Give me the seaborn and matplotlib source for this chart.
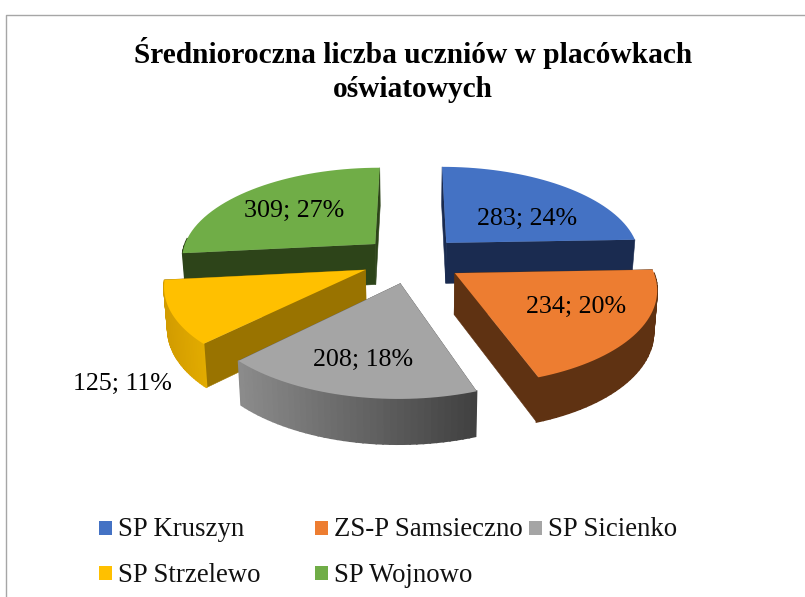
import numpy as np
import seaborn as sns
import matplotlib.pyplot as plt
from matplotlib.colors import to_rgb
from matplotlib.patches import Rectangle

names = ["SP Kruszyn", "ZS-P Samsieczno", "SP Sicienko", "SP Strzelewo", "SP Wojnowo"]
values = [283, 234, 208, 125, 309]
percents = [24, 20, 18, 11, 27]

top_colors = ["#4472C4", "#ED7D31", "#A5A5A5", "#FFC000", "#70AD47"]
side_colors = ["#1A2B50", "#5F3212", "#666666", "#997300", "#2D4419"]
# outer rim goes from the first colour to the second, left to right on screen
rim_colors = [("#1A2B50", "#1A2B50"), ("#5F3212", "#5F3212"), ("#8C8C8C", "#414141"),
              ("#D29C00", "#E2AB00"), ("#2D4419", "#2D4419")]

# pie projection, worked out from the picture
cx, cy = 412, 259.5
rx, ry = 195, 91.3
persp = 0.143
explode = 0.26
depth = 41

label_pos = [(527, 219), (576, 307), (363, 360), (122, 384), (294, 211)]
legend_x = [99, 315, 529, 99, 315]
legend_y = [528, 528, 528, 573, 573]


def project(px, py):
    w = 1 / (1 + persp * py)
    return cx + rx * px * w, cy - ry * py * w, w


def lower(x, y, w):
    return cx + (x - cx) * 0.985, y + depth * np.sqrt(w)


def band(ax, x1, y1, x2, y2, color, lw=0.4):
    ax.fill([x1[0], x2[0], x2[1], x1[1]], [y1[0], y2[0], y2[1], y1[1]],
            color=color, lw=lw)


sns.set_theme(style="white")
plt.rcParams["font.family"] = ["Liberation Serif", "DejaVu Serif"]
palette = sns.color_palette(top_colors)

fig = plt.figure(figsize=(8.05, 5.97), dpi=100)
ax = fig.add_axes([0, 0, 1, 1])
ax.set_xlim(0, 805)
ax.set_ylim(597, 0)
ax.axis("off")

# chart frame runs off the right and bottom of the crop
ax.plot([5.7, 5.7, 805], [597, 15, 15], color="#A6A6A6", lw=1)

edges = np.cumsum([0] + values) / sum(values) * 2 * np.pi

# painted back to front
for i in [4, 0, 3, 1, 2]:
    a0, a1 = edges[i], edges[i + 1]
    mid = (a0 + a1) / 2
    ox, oy = explode * np.sin(mid), explode * np.cos(mid)
    t = np.linspace(a0, a1, 40)
    X, Y, W = project(ox + np.sin(t), oy + np.cos(t))
    ax_, ay_, aw_ = project(ox, oy)
    bX, bY = lower(X, Y, W)
    bax, bay = lower(ax_, ay_, aw_)

    band(ax, [ax_, bax], [ay_, bay], [X[0], bX[0]], [Y[0], bY[0]], side_colors[i])
    band(ax, [ax_, bax], [ay_, bay], [X[-1], bX[-1]], [Y[-1], bY[-1]], side_colors[i])

    c0, c1 = np.array(to_rgb(rim_colors[i][0])), np.array(to_rgb(rim_colors[i][1]))
    for j in range(len(t) - 1):
        # back of the rim is hidden, and its strokes would leak past the top face
        if np.cos(t[j]) > 0.03:
            continue
        f = (X[j] - X.min()) / (X.max() - X.min())
        band(ax, [X[j], bX[j]], [Y[j], bY[j]], [X[j + 1], bX[j + 1]], [Y[j + 1], bY[j + 1]],
             tuple(c0 + (c1 - c0) * f), lw=1.2)

    ax.fill(np.r_[ax_, X], np.r_[ay_, Y], color=palette[i], lw=0)

for i in range(len(values)):
    ax.text(label_pos[i][0], label_pos[i][1], f"{values[i]}; {percents[i]}%",
            fontsize=18.7, color="black", ha="center", va="center")
    ax.add_patch(Rectangle((legend_x[i], legend_y[i] - 7), 13, 14, color=palette[i], lw=0))
    ax.text(legend_x[i] + 19, legend_y[i] + 2, names[i], fontsize=19.3, color="#111111",
            ha="left", va="center")

ax.text(413, 70, "Średnioroczna liczba uczniów w placówkach\noświatowych",
        fontsize=21.2, fontweight="bold", color="black", ha="center", va="center",
        linespacing=1.32)

fig.savefig("out.png", dpi=100)
